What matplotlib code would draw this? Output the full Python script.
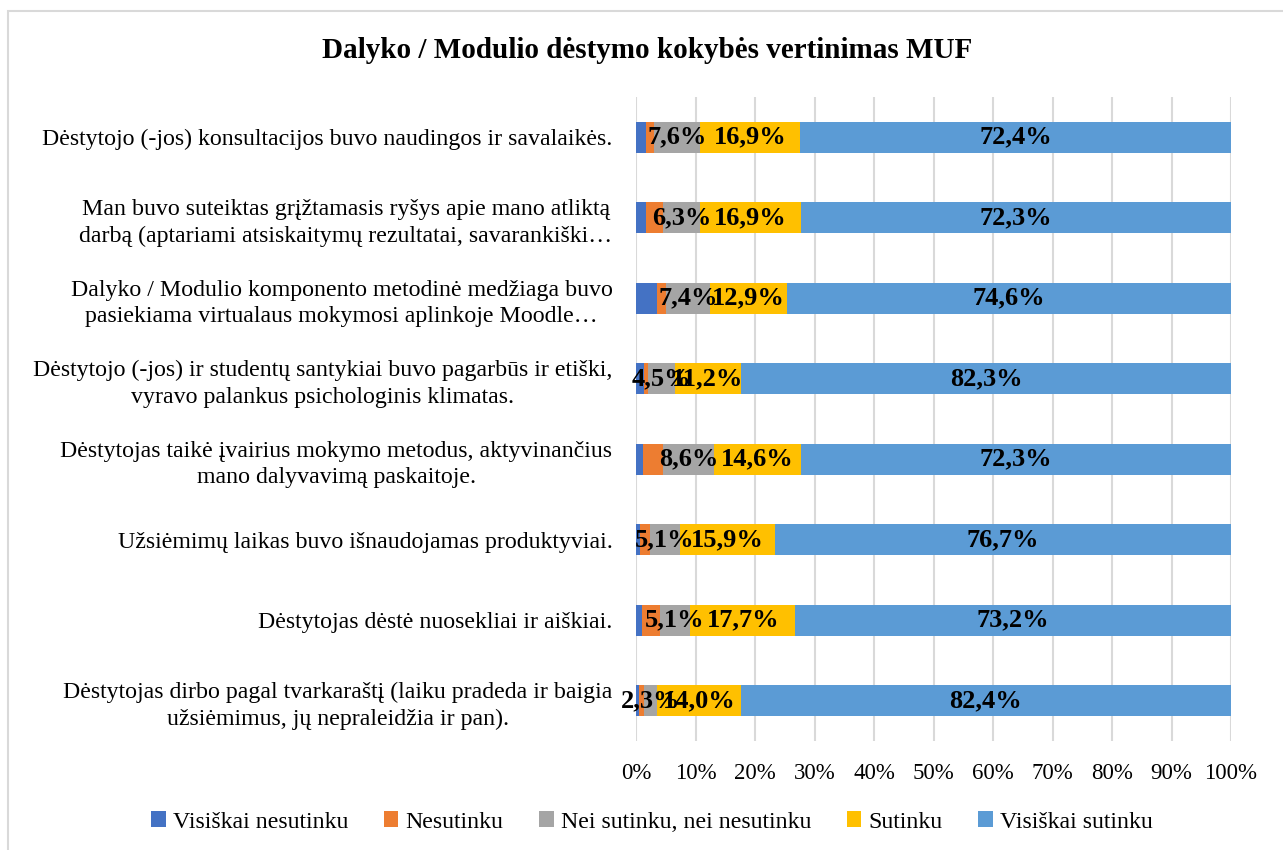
import matplotlib
matplotlib.use("Agg")
import matplotlib.pyplot as plt
from matplotlib.patches import Rectangle, Patch

plt.rcParams['font.family'] = ['Liberation Serif', 'DejaVu Serif']

title = "Dalyko / Modulio dėstymo kokybės vertinimas MUF"
categories = [
    "Dėstytojo (-jos) konsultacijos buvo naudingos ir savalaikės.",
    "Man buvo suteiktas grįžtamasis ryšys apie mano atliktą\ndarbą (aptariami atsiskaitymų rezultatai, savarankiški…",
    "Dalyko / Modulio komponento metodinė medžiaga buvo\npasiekiama virtualaus mokymosi aplinkoje Moodle…",
    "Dėstytojo (-jos) ir studentų santykiai buvo pagarbūs ir etiški,\nvyravo palankus psichologinis klimatas.",
    "Dėstytojas taikė įvairius mokymo metodus, aktyvinančius\nmano dalyvavimą paskaitoje.",
    "Užsiėmimų laikas buvo išnaudojamas produktyviai.",
    "Dėstytojas dėstė nuosekliai ir aiškiai.",
    "Dėstytojas dirbo pagal tvarkaraštį (laiku pradeda ir baigia\nužsiėmimus, jų nepraleidžia ir pan).",
]
series_names = ["Visiškai nesutinku", "Nesutinku", "Nei sutinku, nei nesutinku",
                "Sutinku", "Visiškai sutinku"]
visiskai_nesutinku = [1.7, 1.7, 3.5, 1.4, 1.2, 0.6, 1.0, 0.5]
nesutinku = [1.4, 2.8, 1.6, 0.6, 3.3, 1.7, 3.0, 0.8]
nei = [7.6, 6.3, 7.4, 4.5, 8.6, 5.1, 5.1, 2.3]
sutinku = [16.9, 16.9, 12.9, 11.2, 14.6, 15.9, 17.7, 14.0]
visiskai_sutinku = [72.4, 72.3, 74.6, 82.3, 72.3, 76.7, 73.2, 82.4]
xtick_labels = [f"{v}%" for v in range(0, 101, 10)]

colors = ["#4472C4", "#ED7D31", "#A5A5A5", "#FFC000", "#5B9BD5"]
series = [visiskai_nesutinku, nesutinku, nei, sutinku, visiskai_sutinku]
labeled = [False, False, True, True, True]

W, H = 1283, 850
fig = plt.figure(figsize=(W / 100, H / 100), dpi=100)
ax = fig.add_axes([636 / W, 1 - 741 / H, (1231 - 636) / W, (741 - 97) / H])

ypos = list(range(len(categories)))
left = [0.0] * len(categories)
for name, vals, col, lab in zip(series_names, series, colors, labeled):
    bars = ax.barh(ypos, vals, left=left, height=0.39, color=col, label=name, zorder=3)
    if lab:
        ax.bar_label(bars, labels=[f"{v:.1f}%".replace(".", ",") for v in vals],
                     label_type='center', fontsize=19, fontweight='bold', color='black', zorder=4)
    left = [a + b for a, b in zip(left, vals)]

ax.set_xlim(0, 100)
ax.set_ylim(len(categories) - 0.5, -0.5)
ax.set_xticks(range(0, 101, 10))
ax.set_xticklabels(xtick_labels, fontsize=16.5)
ax.set_yticks(ypos)
ax.set_yticklabels(categories, fontsize=17.2, multialignment='center', linespacing=1.35)
ax.tick_params(axis='both', length=0)
ax.tick_params(axis='y', pad=17)
ax.tick_params(axis='x', pad=16)
ax.grid(axis='x', color='#D9D9D9', linewidth=1.5, zorder=0)
for s in ax.spines.values():
    s.set_visible(False)

fig.text(647 / W, 1 - 50 / H, title, ha='center', va='center', fontsize=21, fontweight='bold')

handles = [Patch(facecolor=c, edgecolor='none') for c in colors]
fig.legend(handles, series_names, loc='center', bbox_to_anchor=(652 / W, 1 - 822 / H), ncol=5,
           frameon=False, fontsize=17.2, handlelength=0.6, handleheight=0.6,
           handletextpad=0.3, columnspacing=1.5)

fig.patches.append(Rectangle((8 / W, -0.1), 1.2, 1.1 - 11 / H, transform=fig.transFigure,
                             fill=False, edgecolor='#D9D9D9', linewidth=1.5))

fig.savefig("out.png", dpi=100)
